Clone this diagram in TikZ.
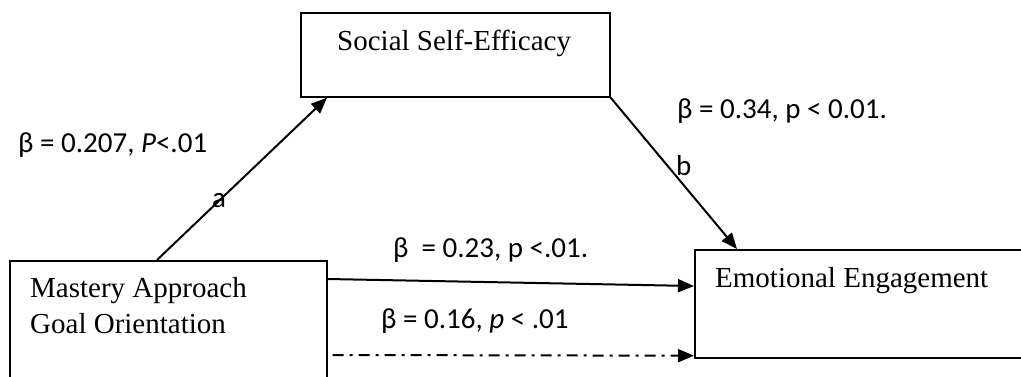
\documentclass[tikz,border=0pt]{standalone}
\usepackage{fontspec}
\setmainfont{Liberation Serif}
\newfontfamily\calib{Carlito}
\usepackage{tikz}
\usetikzlibrary{arrows.meta,calc}

\begin{document}
\begin{tikzpicture}[x=1pt, y=1pt, >={Triangle[length=16pt,width=13pt]}]
  % ------- styles -------
  \tikzstyle{box}=[draw, line width=1.7pt, inner sep=0pt, anchor=north west]
  \tikzstyle{varname}=[inner sep=0pt, anchor=base west, align=left, font=\fontsize{29}{36}\selectfont]
  \tikzstyle{coef}=[inner sep=0pt, anchor=base west, font=\calib\fontsize{29}{33}\selectfont]
  \tikzstyle{path}=[->, line width=2pt]
  \tikzstyle{dashpath}=[path, dash pattern=on 11pt off 6pt on 3pt off 6pt]

  \useasboundingbox (0,0) rectangle (1021,-376);

  % ------- boxes -------
  \node[box, minimum width=309pt, minimum height=84pt] (sse) at (300,-12) {};
  \node[box, minimum width=317pt, minimum height=125pt] (mastery) at (9,-260) {};
  \node[box, minimum width=335pt, minimum height=108pt] (ee) at (694,-249) {};

  % box texts
  \node[varname] (ssetext) at (337,-50) {Social Self-Efficacy};
  \node[varname] (masterytext) at (30,-333) {Mastery Approach\\Goal Orientation};
  \node[varname] (eetext) at (715,-287) {Emotional Engagement};

  % ------- coefficients -------
  \node[coef] (acoef) at (18,-152) {β = 0.207, \textit{P}<.01};
  \node[coef] (alab) at (212,-207) {a};
  \node[coef] (bcoef) at (677,-118) {β = 0.34, p < 0.01.};
  \node[coef] (blab) at (676,-175) {b};
  \node[coef] (ccoef) at (393,-257) {β~ = 0.23, p <.01.};
  \node[coef] (dcoef) at (381,-328) {β = 0.16, \textit{p} < .01};

  % ------- arrows -------
  \draw[path] ($(mastery.north west)+(148,0)$) -- ($(sse.south west)+(27,0)$);
  \draw[path] (sse.south east) -- ($(ee.north west)+(43,0)$);
  \draw[path] ($(mastery.north east)+(0,-19)$) -- ($(ee.north west)+(0,-37)$);
  \draw[dashpath] ($(mastery.north east)+(5,-95)$) -- ($(ee.south west)+(0,3)$);

\end{tikzpicture}
\end{document}
